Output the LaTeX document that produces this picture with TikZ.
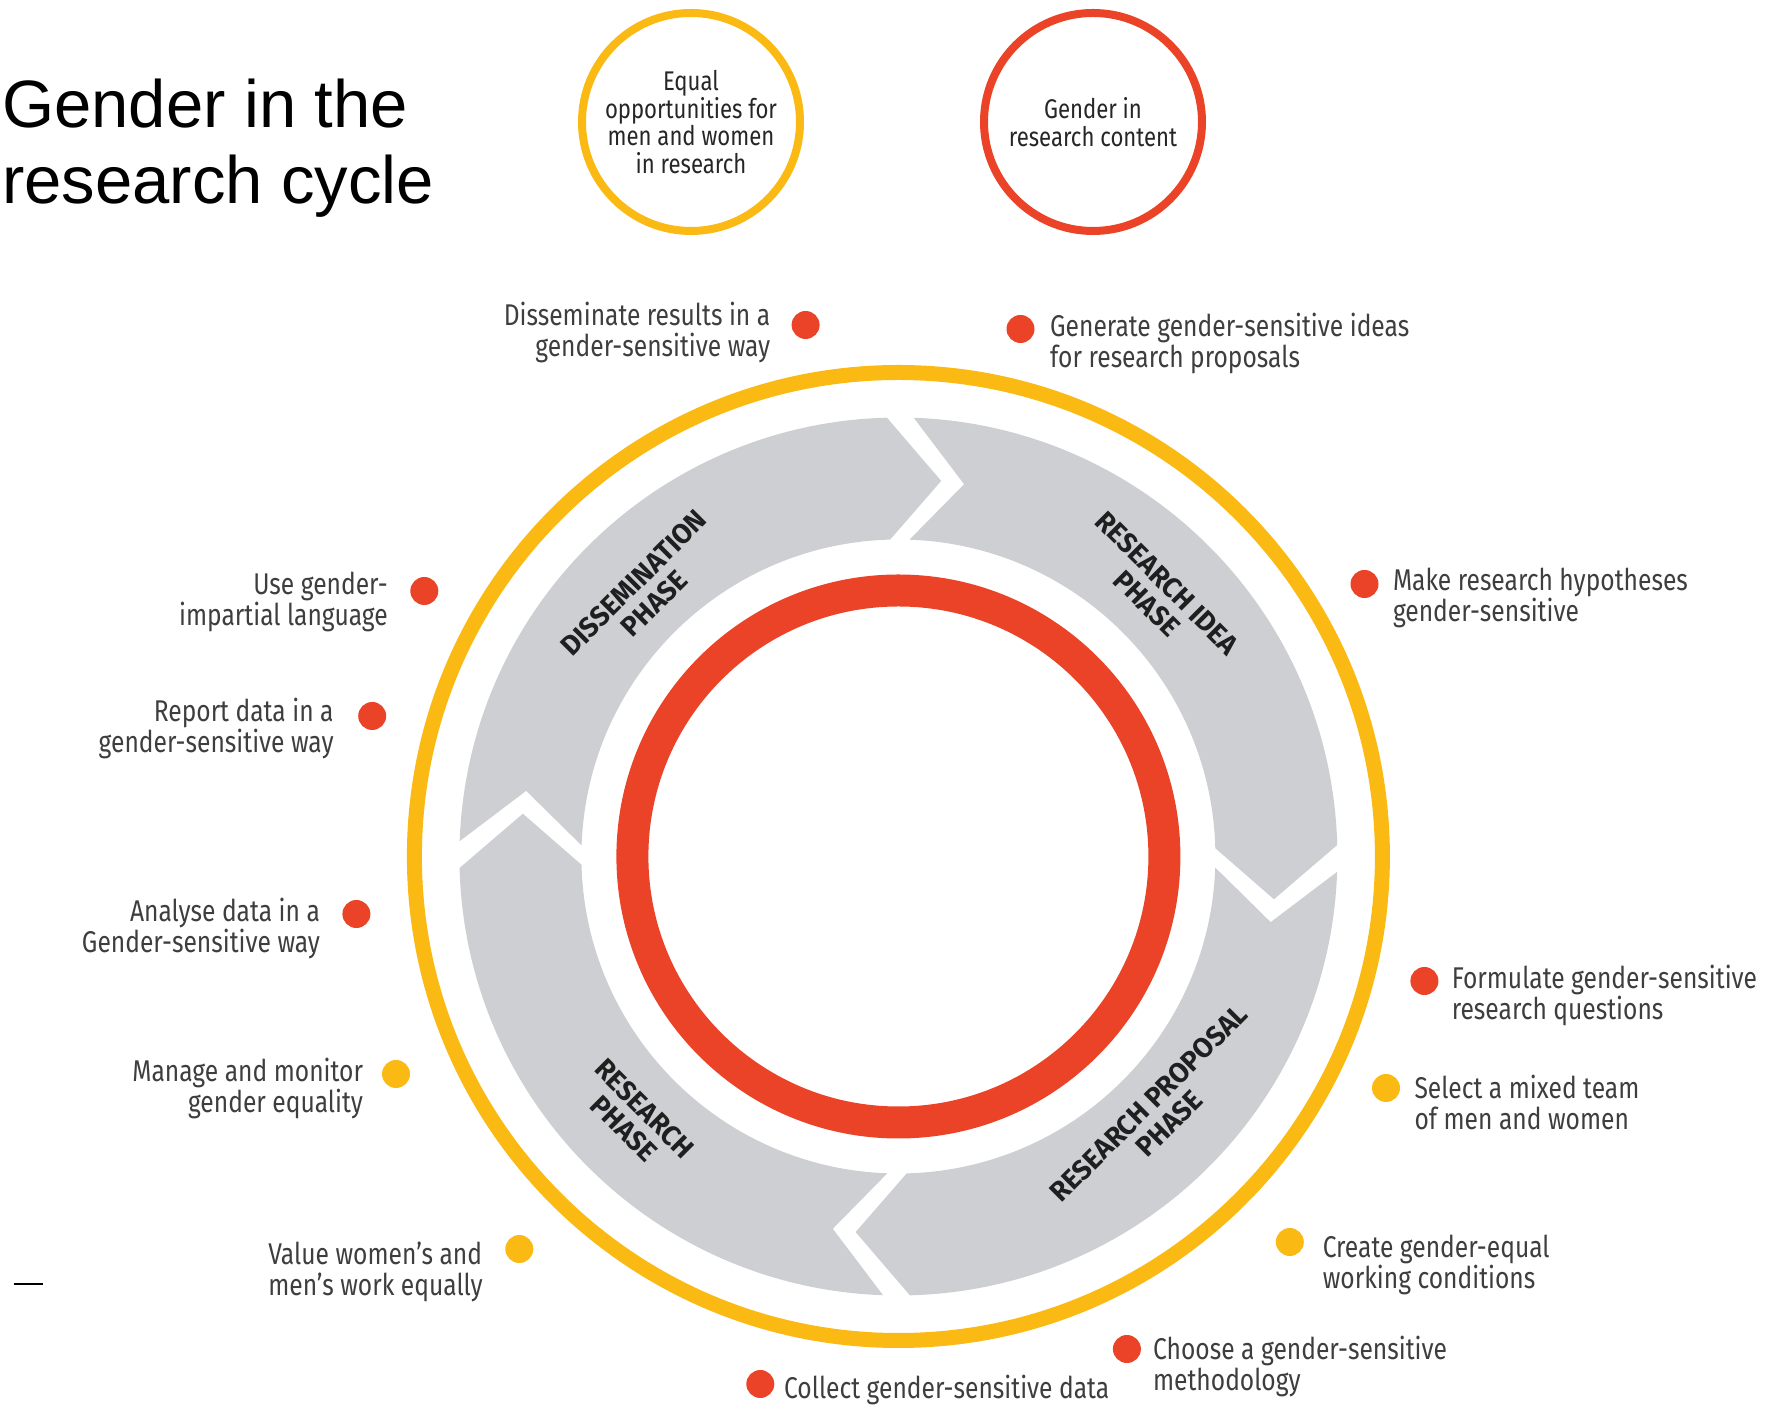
\documentclass[tikz,border=0pt]{standalone}
\usepackage{fontspec}
\newfontfamily\titlefont{Liberation Sans}
\newfontfamily\lblfont[FakeStretch=0.82]{Fira Sans}
\newfontfamily\phasefont[FakeStretch=0.97]{Fira Sans}
\definecolor{ringyellow}{RGB}{251,186,19}
\definecolor{ringred}{RGB}{234,67,40}
\definecolor{bandgrey}{RGB}{205,207,210}
\definecolor{txtgrey}{RGB}{62,62,62}
\newcommand\phaseseg[2]{%
  \fill[bandgrey] (#1:439pt) arc[start angle=#1, end angle=#2, radius=439pt]
    -- ({#2-8}:378pt) -- (#2:317pt)
    arc[start angle=#2, end angle=#1, radius=317pt]
    -- ({#1-8}:378pt) -- cycle;}
\begin{document}
\begin{tikzpicture}[x=1pt,y=1pt,
  lbl/.style={font=\lblfont\fontsize{30}{31}\selectfont, text=txtgrey, inner sep=0pt},
  lblL/.style={lbl, align=right, anchor=base east},
  lblR/.style={lbl, align=left, anchor=base west},
  reddot/.style={circle, fill=ringred, minimum size=28pt, inner sep=0pt},
  yeldot/.style={circle, fill=ringyellow, minimum size=28pt, inner sep=0pt},
  phaselbl/.style={font=\phasefont\bfseries\fontsize{28}{29}\selectfont, text=black!88, align=center, inner sep=0pt},
  topcircle/.style={circle, line width=8pt, minimum size=218pt, align=center, inner sep=0pt,
    font=\lblfont\fontsize{27}{27.7}\selectfont, text=black!85}]
\useasboundingbox (0,0) rectangle (1774,1405);

% title
\node[anchor=base west, align=left, inner sep=0pt, font=\titlefont\fontsize{67}{76}\selectfont] (title) at (2,1201) {Gender in the\\research cycle};

% top circles
\node[topcircle, draw=ringyellow] (equal) at (691,1283) {Equal\\opportunities for\\men and women\\in research};
\node[topcircle, draw=ringred] (content) at (1093,1283) {Gender in\\research content};

% main rings
\coordinate (C) at (898.4,548.5);
\draw[ringyellow, line width=15pt] (C) circle[radius=484pt];
\draw[ringred, line width=32pt] (C) circle[radius=266pt];

\begin{scope}[shift={(C)}]
  \phaseseg{178}{91.5}
  \phaseseg{88}{1.5}
  \phaseseg{-2}{-88.5}
  \phaseseg{-92}{-178.5}
  \node[phaselbl, rotate=45] (pdis) at (134:366pt) {DISSEMINATION\\PHASE};
  \node[phaselbl, rotate=-45] (pidea) at (45.5:369pt) {RESEARCH IDEA\\PHASE};
  \node[phaselbl, rotate=45] (pprop) at (-44.6:366pt) {RESEARCH PROPOSAL\\PHASE};
  \node[phaselbl, rotate=-45] (pres) at (-135.2:372pt) {RESEARCH\\PHASE};
\end{scope}

% left labels
\node[reddot] (d1) at (805.6,1080) {};
\node[lblL] (t1) at (770.5,1048) {Disseminate results in a\\gender-sensitive way};
\node[reddot] (d2) at (424.3,814) {};
\node[lblL] (t2) at (388,779) {Use gender-\\impartial language};
\node[reddot] (d3) at (372.2,689) {};
\node[lblL] (t3) at (333.8,652) {Report data in a\\gender-sensitive way};
\node[reddot] (d4) at (356.4,491) {};
\node[lblL] (t4) at (320.2,452) {Analyse data in a\\Gender-sensitive way};
\node[yeldot] (d5) at (396,331) {};
\node[lblL] (t5) at (363.2,292) {Manage and monitor\\gender equality};
\node[yeldot] (d6) at (519.3,156) {};
\node[lblR] (t6) at (268.1,109) {Value women’s and\\men’s work equally};
\node[reddot] (d7) at (760.3,21) {};
\node[lblR] (t7) at (784,6.6) {Collect gender-sensitive data};

% right labels
\node[reddot] (d8) at (1020.5,1076) {};
\node[lblR] (t8) at (1050,1037) {Generate gender-sensitive ideas\\for research proposals};
\node[reddot] (d9) at (1364.5,821) {};
\node[lblR] (t9) at (1392.8,783) {Make research hypotheses\\gender-sensitive};
\node[reddot] (d10) at (1424.4,424) {};
\node[lblR] (t10) at (1451.6,385) {Formulate gender-sensitive\\research questions};
\node[yeldot] (d11) at (1386,317) {};
\node[lblR] (t11) at (1414.3,275) {Select a mixed team\\of men and women};
\node[yeldot] (d12) at (1289.8,163) {};
\node[lblR] (t12) at (1322.6,116) {Create gender-equal\\working conditions};
\node[reddot] (d13) at (1126.9,56) {};
\node[lblR] (t13) at (1152.9,15) {Choose a gender-sensitive\\methodology};

% stray dash
\draw[line width=2.5pt] (13.6,121) -- (43,121);
\end{tikzpicture}
\end{document}
